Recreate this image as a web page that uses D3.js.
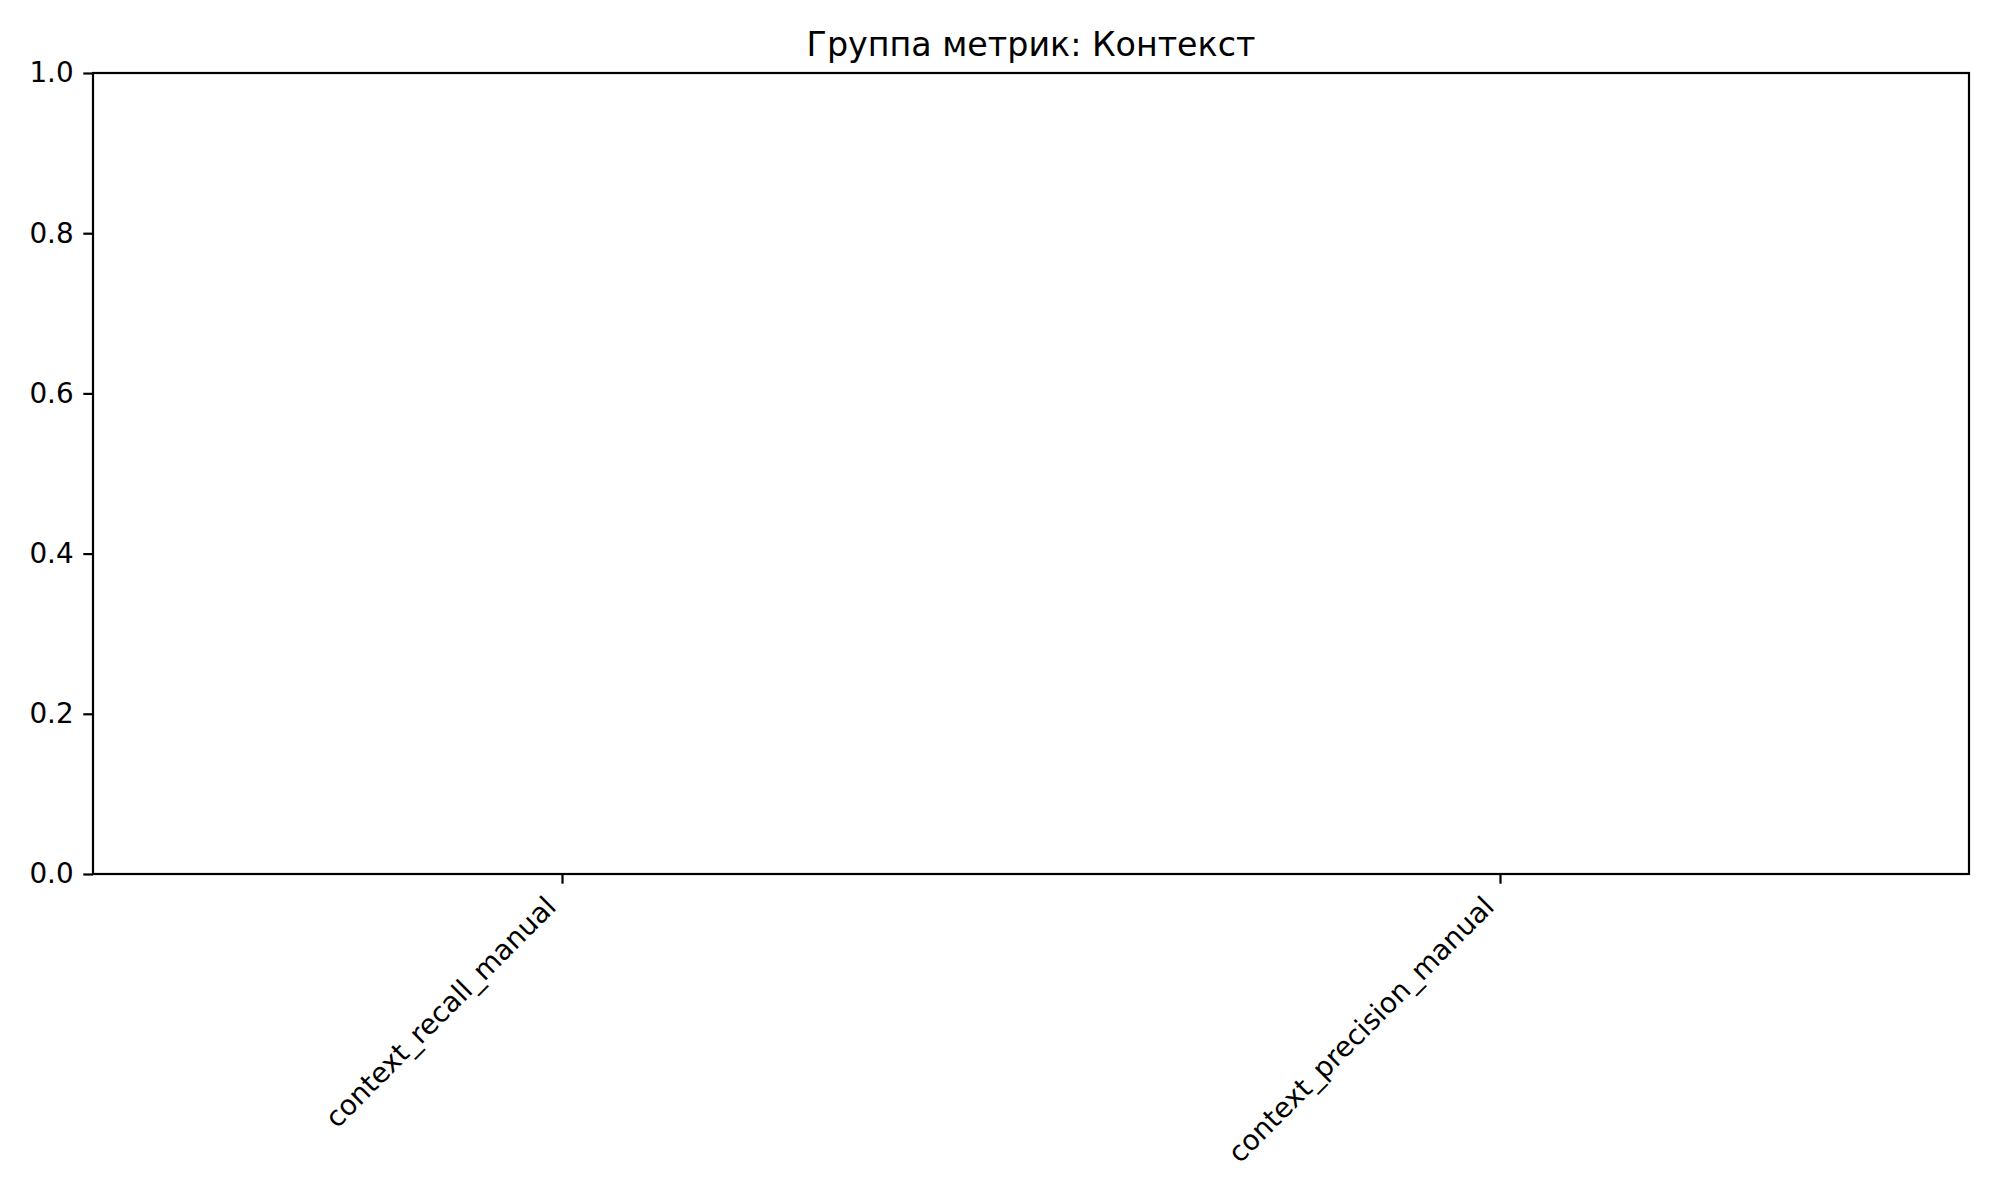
<!DOCTYPE html>
<html><head><meta charset="utf-8">
<script src="https://cdn.jsdelivr.net/npm/d3@7"></script>
<style>html,body{margin:0;padding:0;background:#fff;} svg{display:block;font-family:"DejaVu Sans",sans-serif;}</style>
</head><body>
<svg id="chart" width="2000" height="1200"></svg>
<script>
const title = "Группа метрик: Контекст";
const categories = ["context_recall_manual", "context_precision_manual"];
const values = [];          // no bars are drawn in the reference
const yTicks = [0.0, 0.2, 0.4, 0.6, 0.8, 1.0];

const W = 2000, H = 1200;
const m = {left: 93, right: 31, top: 73, bottom: 326};
const svg = d3.select("#chart");
const iw = W - m.left - m.right, ih = H - m.top - m.bottom;
const g = svg.append("g").attr("transform", `translate(${m.left},${m.top})`);

const x = d3.scaleLinear().domain([-0.5, categories.length - 0.5]).range([0, iw]);
const y = d3.scaleLinear().domain([0, 1]).range([ih, 0]);

const lw = 2.2, tickLen = 9.7, pad = 9.7, fs = 27.8;

// bars (none)
g.selectAll("rect.bar").data(values).enter().append("rect")
  .attr("class","bar")
  .attr("x", (d,i) => x(i - 0.4)).attr("width", x(0.8) - x(0))
  .attr("y", d => y(d)).attr("height", d => ih - y(d)).attr("fill", "#1f77b4");

// y axis
const yAxis = d3.axisLeft(y).tickValues(yTicks).tickFormat(d3.format(".1f"))
  .tickSize(tickLen).tickPadding(pad);
const ya = g.append("g").call(yAxis);
ya.select(".domain").remove();
ya.selectAll("line").attr("stroke", "#000").attr("stroke-width", lw);
ya.selectAll("text").attr("font-size", fs).attr("fill", "#000")
  .attr("font-family", "DejaVu Sans");

// x axis
const xAxis = d3.axisBottom(x).tickValues(d3.range(categories.length))
  .tickFormat(i => categories[i]).tickSize(tickLen).tickPadding(pad);
const xa = g.append("g").attr("transform", `translate(0,${ih})`).call(xAxis);
xa.select(".domain").remove();
xa.selectAll("line").attr("stroke", "#000").attr("stroke-width", lw);
const a = 0.76 * fs, dsc = 0.24 * fs;
xa.selectAll("text")
  .attr("font-size", fs).attr("fill", "#000").attr("font-family", "DejaVu Sans")
  .attr("y", null).attr("dy", null)
  .attr("text-anchor", "end")
  .attr("transform", `translate(${-0.707*dsc},${tickLen + pad + 0.707*a}) rotate(-45)`);

// frame
g.append("rect").attr("x", 0).attr("y", 0).attr("width", iw).attr("height", ih)
  .attr("fill", "none").attr("stroke", "#000").attr("stroke-width", lw);

// title
svg.append("text").attr("x", m.left + iw/2).attr("y", m.top - 16.7)
  .attr("text-anchor", "middle").attr("font-size", 33.3).attr("fill", "#000")
  .attr("font-family", "DejaVu Sans").text(title);
</script>
</body></html>
